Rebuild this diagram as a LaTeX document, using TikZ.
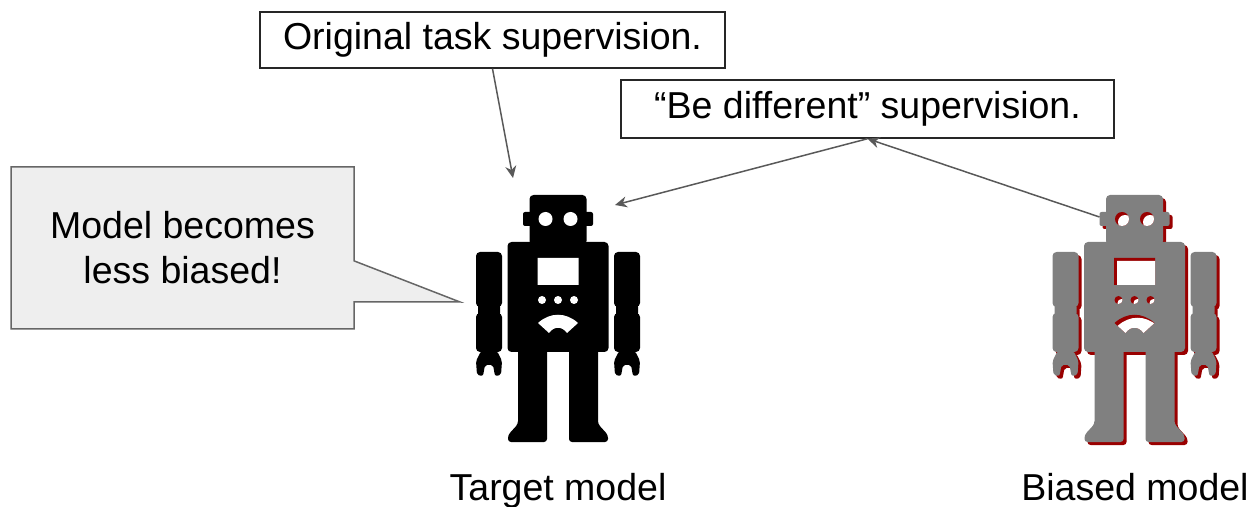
\documentclass[tikz,border=0pt]{standalone}
\usepackage{fontspec}
\setmainfont{Liberation Sans}
\usetikzlibrary{arrows.meta,shapes.callouts}
\definecolor{robotgray}{HTML}{808080}
\definecolor{shadowred}{HTML}{990000}
\definecolor{arrowgray}{HTML}{595959}
\definecolor{bubblefill}{HTML}{EEEEEE}
\tikzset{
    box/.style={rectangle,draw=black!85,line width=0.75pt,fill=white,inner sep=0pt},
    bubble/.style={rectangle callout,draw=black!60,fill=bubblefill,line width=0.75pt,align=center,inner sep=0pt},
    caption/.style={anchor=base},
    sup/.style={-{Stealth[length=6pt,width=5.5pt]},arrowgray,line width=0.75pt}
}
% robot silhouette, origin at the top middle of the head
\newcommand\robotbody[1]{%
    \fill[#1,rounded corners=2pt] (-28.5,0) rectangle (28.5,50);
    \fill[#1,rounded corners=1pt] (-35,17) rectangle (35,31);
    \fill[#1,rounded corners=2pt] (-50.5,47) rectangle (50.5,157);
    \foreach \s in {-1,1} {
        \begin{scope}[xscale=\s]
            \fill[#1,rounded corners=2pt] (56,57) rectangle (82,112) (58,108) rectangle (80,122) (56,118) rectangle (82,157);
            \fill[#1,rounded corners=1pt] (61,156) -- (77,156) -- (82,166) -- (81,180) -- (75,181) -- (73,170)
                -- (65,170) -- (63,181) -- (57,180) -- (56,166) -- cycle;
            \fill[#1,rounded corners=1.5pt] (11,150) -- (40,150) -- (40,229) -- (50,240) -- (50,247) -- (11,247) -- cycle;
        \end{scope}
    }
}
\newcommand\robotholes{(-12.5,24) circle[radius=7] (12.5,24) circle[radius=7]
    (-20.5,63) rectangle (20.5,90)
    (-16,105) circle[radius=4] (0,105) circle[radius=4] (16,105) circle[radius=4]
    (-20,128) .. controls (-8,117) and (8,117) .. (20,128) -- (9,138) .. controls (4,131) and (-4,131) .. (-9,138) -- cycle}

\begin{document}
\begin{tikzpicture}[x=0.5pt,y=-0.5pt,every node/.style={font=\fontsize{18.75}{22.5}\selectfont}]
    \useasboundingbox (0,0) rectangle (1252,507);

    % target model
    \begin{scope}[shift={(558,195)}]
        \robotbody{black}
        \fill[white] \robotholes;
        \coordinate (target top) at (-45,-17);
        \coordinate (target ear) at (57,10);
    \end{scope}

    % biased model, with its red shadow
    \begin{scope}[shift={(1134.5,195)}]
        \begin{scope}[shift={(3,3)}]
            \robotbody{shadowred}
        \end{scope}
        \robotbody{robotgray}
        \begin{scope}
            \clip \robotholes;
            \fill[shadowred] (-40,0) rectangle (40,150);
            \fill[white,shift={(3,3)}] \robotholes;
        \end{scope}
        \coordinate (biased ear) at (-35,22);
    \end{scope}

    \node[box,minimum width=232.5pt,minimum height=28pt] (orig) at (492.5,40) {Original task supervision.};
    \node[box,minimum width=246.5pt,minimum height=29pt] (diff) at (867.5,109) {“Be different” supervision.};

    \node[bubble,minimum width=171.5pt,minimum height=81pt,callout absolute pointer={(460,302)},
        callout pointer width=20.5pt] (speech) at (182.5,248) {Model becomes\\less biased!};

    \node[caption] (target label) at (558,500) {Target model};
    \node[caption] (biased label) at (1135,500) {Biased model};

    \draw[sup] (orig.south) -- (target top);
    \draw[sup] (diff.south) -- (target ear);
    \draw[sup] (biased ear) -- (diff.south);

\end{tikzpicture}
\end{document}
